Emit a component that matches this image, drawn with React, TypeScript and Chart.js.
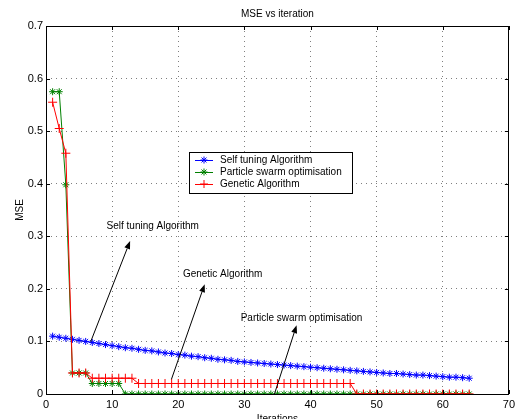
import React, { useEffect, useRef } from 'react';
import { Chart, registerables } from 'chart.js';

Chart.register(...registerables);

const iterations = [
  1, 2, 3, 4, 5, 6, 7, 8, 9, 10, 11, 12, 13, 14, 15, 16, 17, 18, 19, 20,
  21, 22, 23, 24, 25, 26, 27, 28, 29, 30, 31, 32, 33, 34, 35, 36, 37, 38, 39, 40,
  41, 42, 43, 44, 45, 46, 47, 48, 49, 50, 51, 52, 53, 54, 55, 56, 57, 58, 59, 60,
  61, 62, 63, 64,
];

const selfTuning = [
  0.110, 0.108, 0.106, 0.104, 0.102, 0.100, 0.098, 0.096, 0.094, 0.092,
  0.090, 0.088, 0.087, 0.085, 0.083, 0.082, 0.080, 0.078, 0.077, 0.075,
  0.074, 0.072, 0.071, 0.069, 0.068, 0.066, 0.065, 0.064, 0.062, 0.061,
  0.060, 0.059, 0.058, 0.057, 0.056, 0.055, 0.054, 0.053, 0.052, 0.051,
  0.050, 0.049, 0.048, 0.047, 0.046, 0.045, 0.044, 0.043, 0.042, 0.041,
  0.040, 0.039, 0.039, 0.038, 0.037, 0.036, 0.036, 0.035, 0.034, 0.033,
  0.032, 0.032, 0.031, 0.030,
];

const particleSwarm = [
  0.575, 0.575, 0.398, 0.04, 0.04, 0.04, 0.02, 0.02, 0.02, 0.02,
  0.02, 0, 0, 0, 0, 0, 0, 0, 0, 0,
  0, 0, 0, 0, 0, 0, 0, 0, 0, 0,
  0, 0, 0, 0, 0, 0, 0, 0, 0, 0,
  0, 0, 0, 0, 0, 0, 0, 0, 0, 0,
  0, 0, 0, 0, 0, 0, 0, 0, 0, 0,
  0, 0, 0, 0,
];

const genetic = [
  0.555, 0.505, 0.458, 0.04, 0.04, 0.04, 0.03, 0.03, 0.03, 0.03,
  0.03, 0.03, 0.03, 0.02, 0.02, 0.02, 0.02, 0.02, 0.02, 0.02,
  0.02, 0.02, 0.02, 0.02, 0.02, 0.02, 0.02, 0.02, 0.02, 0.02,
  0.02, 0.02, 0.02, 0.02, 0.02, 0.02, 0.02, 0.02, 0.02, 0.02,
  0.02, 0.02, 0.02, 0.02, 0.02, 0.02, 0, 0, 0, 0,
  0, 0, 0, 0, 0, 0, 0, 0, 0, 0,
  0, 0, 0, 0,
];

const seriesNames = ['Self tuning Algorithm', 'Particle swarm optimisation', 'Genetic Algorithm'];
const xTickValues = [0, 10, 20, 30, 40, 50, 60, 70];
const yTickValues = [0, 0.1, 0.2, 0.3, 0.4, 0.5, 0.6, 0.7];
const chartTitle = 'MSE vs iteration';
const xTitle = 'Iterations';
const yTitle = 'MSE';

// annotation labels with arrows (data coordinates)
const annotations = [
  { text: 'Self tuning Algorithm', tx: 9.16, ty: 0.32, x0: 6.76, y0: 0.0995, x1: 12.72, y1: 0.291 },
  { text: 'Genetic Algorithm', tx: 20.7, ty: 0.228, x0: 18.97, y0: 0.028, x1: 24.0, y1: 0.209 },
  { text: 'Particle swarm optimisation', tx: 29.44, ty: 0.1446, x0: 34.55, y0: 0.0, x1: 37.9, y1: 0.131 },
];

const FONT = "'Liberation Sans', Arial, Helvetica, sans-serif";
const COLORS = ['#0000ff', '#008000', '#ff0000'];
const STYLES = ['star', 'star', 'cross'];

const toPts = (ys: number[]) => ys.map((y, i) => ({ x: iterations[i], y }));

const decorPlugin = {
  id: 'decor',
  afterDraw(chart: any) {
    const { ctx, chartArea: a, scales } = chart;
    const xs = scales.x;
    const ys = scales.y;
    ctx.save();
    // box
    ctx.strokeStyle = '#000';
    ctx.lineWidth = 1;
    ctx.setLineDash([]);
    ctx.strokeRect(Math.round(a.left) + 0.5, Math.round(a.top) + 0.5, Math.round(a.right - a.left) - 1, Math.round(a.bottom - a.top));
    // inner ticks
    ctx.beginPath();
    xTickValues.forEach((v) => {
      const px = Math.round(xs.getPixelForValue(v)) + 0.5;
      ctx.moveTo(px, a.bottom);
      ctx.lineTo(px, a.bottom - 4);
      ctx.moveTo(px, a.top);
      ctx.lineTo(px, a.top + 4);
    });
    yTickValues.forEach((v) => {
      const py = Math.round(ys.getPixelForValue(v)) + 0.5;
      ctx.moveTo(a.left, py);
      ctx.lineTo(a.left + 4, py);
      ctx.moveTo(a.right, py);
      ctx.lineTo(a.right - 4, py);
    });
    ctx.stroke();

    // annotations
    ctx.fillStyle = '#000';
    ctx.font = `10px ${FONT}`;
    ctx.textBaseline = 'middle';
    ctx.textAlign = 'left';
    annotations.forEach((an) => {
      ctx.fillText(an.text, xs.getPixelForValue(an.tx), ys.getPixelForValue(an.ty));
      const sx = xs.getPixelForValue(an.x0);
      const sy = ys.getPixelForValue(an.y0);
      const ex = xs.getPixelForValue(an.x1);
      const ey = ys.getPixelForValue(an.y1);
      const ang = Math.atan2(ey - sy, ex - sx);
      const hl = 8;
      const hw = 3;
      const bx = ex - hl * Math.cos(ang);
      const by = ey - hl * Math.sin(ang);
      ctx.beginPath();
      ctx.moveTo(sx, sy);
      ctx.lineTo(bx, by);
      ctx.stroke();
      ctx.beginPath();
      ctx.moveTo(ex, ey);
      ctx.lineTo(bx + hw * Math.sin(ang), by - hw * Math.cos(ang));
      ctx.lineTo(bx - hw * Math.sin(ang), by + hw * Math.cos(ang));
      ctx.closePath();
      ctx.fill();
    });

    // legend
    const lx = 189, ly = 152, lw = 163, lh = 41;
    ctx.fillStyle = '#fff';
    ctx.fillRect(lx, ly, lw, lh);
    ctx.strokeStyle = '#000';
    ctx.strokeRect(lx + 0.5, ly + 0.5, lw, lh);
    const rows = [160, 172, 184];
    seriesNames.forEach((name, i) => {
      const y = rows[i];
      ctx.strokeStyle = COLORS[i];
      ctx.lineWidth = 1;
      ctx.beginPath();
      ctx.moveTo(195, y + 0.5);
      ctx.lineTo(213, y + 0.5);
      ctx.stroke();
      // marker
      ctx.beginPath();
      const r = 3.5;
      if (STYLES[i] === 'star') {
        ctx.moveTo(204 - r, y); ctx.lineTo(204 + r, y);
        ctx.moveTo(204, y - r); ctx.lineTo(204, y + r);
        const d = r * 0.707;
        ctx.moveTo(204 - d, y - d); ctx.lineTo(204 + d, y + d);
        ctx.moveTo(204 - d, y + d); ctx.lineTo(204 + d, y - d);
      } else {
        ctx.moveTo(204 - 4, y); ctx.lineTo(204 + 4, y);
        ctx.moveTo(204, y - 4); ctx.lineTo(204, y + 4);
      }
      ctx.stroke();
      ctx.fillStyle = '#000';
      ctx.font = `10px ${FONT}`;
      ctx.textAlign = 'left';
      ctx.textBaseline = 'middle';
      ctx.fillText(name, 220, y + 0.5);
    });

    // title & axis titles
    ctx.fillStyle = '#000';
    ctx.font = `10px ${FONT}`;
    ctx.textAlign = 'center';
    ctx.textBaseline = 'middle';
    const cx = (a.left + a.right) / 2;
    ctx.fillText(chartTitle, cx, 14);
    ctx.fillText(xTitle, cx, 419);
    ctx.save();
    ctx.translate(20, (a.top + a.bottom) / 2);
    ctx.rotate(-Math.PI / 2);
    ctx.fillText(yTitle, 0, 0);
    ctx.restore();
    ctx.restore();
  },
};

export default function App() {
  const ref = useRef<HTMLCanvasElement | null>(null);
  useEffect(() => {
    if (!ref.current) return;
    const chart = new Chart(ref.current, {
      type: 'line',
      data: {
        datasets: [selfTuning, particleSwarm, genetic].map((d, i) => ({
          label: seriesNames[i],
          data: toPts(d),
          borderColor: COLORS[i],
          backgroundColor: COLORS[i],
          borderWidth: 1,
          pointStyle: STYLES[i] as any,
          pointRadius: STYLES[i] === 'cross' ? 4.5 : 3.5,
          pointBorderWidth: 1,
          pointBorderColor: COLORS[i],
          tension: 0,
          fill: false,
          order: 3 - i,
        })),
      },
      options: {
        responsive: false,
        animation: false,
        devicePixelRatio: 1,
        layout: { padding: { top: 26, right: 7, left: 0, bottom: 0 } },
        plugins: {
          legend: { display: false },
          tooltip: { enabled: false },
          title: { display: false },
        },
        scales: {
          x: {
            type: 'linear',
            min: 0,
            max: 70,
            afterFit: (s: any) => { s.height = 25; },
            afterBuildTicks: (s: any) => { s.ticks = xTickValues.map((v) => ({ value: v })); },
            ticks: {
              color: '#000',
              font: { family: FONT, size: 11 },
              padding: 4,
              maxRotation: 0,
              autoSkip: false,
            },
            grid: { color: 'rgba(0,0,0,0.5)', drawTicks: false, lineWidth: 1 },
            border: { display: false, dash: [1, 4] },
          },
          y: {
            type: 'linear',
            min: 0,
            max: 0.7,
            afterFit: (s: any) => { s.width = 46; },
            afterBuildTicks: (s: any) => { s.ticks = yTickValues.map((v) => ({ value: v })); },
            ticks: {
              color: '#000',
              font: { family: FONT, size: 11 },
              padding: 3,
              autoSkip: false,
              callback: (v: any) => (Number(v) === 0 ? '0' : Number(v).toFixed(1)),
            },
            grid: { color: 'rgba(0,0,0,0.5)', drawTicks: false, lineWidth: 1 },
            border: { display: false, dash: [1, 4] },
          },
        },
      },
      plugins: [decorPlugin],
    });
    return () => chart.destroy();
  }, []);
  return (
    <div style={{ position: 'fixed', left: 0, top: 0, width: 519, height: 419, background: '#fff' }}>
      <canvas ref={ref} width={519} height={419} style={{ width: 519, height: 419, display: 'block' }} />
    </div>
  );
}
